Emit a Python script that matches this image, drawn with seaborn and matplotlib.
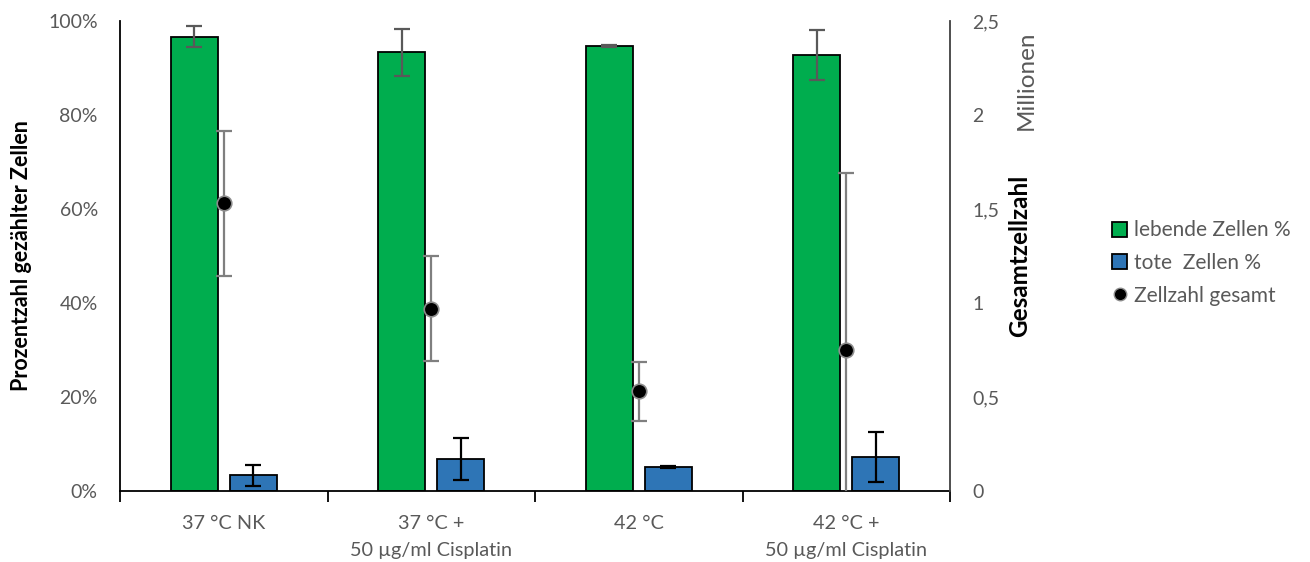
import numpy as np
import pandas as pd
import matplotlib
matplotlib.use("Agg")
import matplotlib.pyplot as plt
from matplotlib.lines import Line2D
from matplotlib.patches import Patch
from matplotlib.ticker import FuncFormatter, MultipleLocator
import seaborn as sns

# Data
categories = ["37 °C NK", "37 °C +\n50 µg/ml Cisplatin", "42 °C", "42 °C +\n50 µg/ml Cisplatin"]
live_pct = [96.7, 93.3, 94.7, 92.8]
live_err = [2.3, 4.9, 0.2, 5.3]
dead_pct = [3.3, 6.8, 5.2, 7.2]
dead_err = [2.3, 4.4, 0.2, 5.3]
total_mio = [1.53, 0.97, 0.53, 0.75]
total_err = [0.385, 0.28, 0.157, 0.94]
series_names = ["lebende Zellen %", "tote  Zellen %"]
total_name = "Zellzahl gesamt"

GREEN = "#00ad4e"
BLUE = "#2e75b6"
GREY = "#595959"

sns.set_style("white")
plt.rcParams["font.family"] = ["Lato", "DejaVu Sans"]

df = pd.DataFrame({
    "Gruppe": categories * 2,
    "Serie": [series_names[0]] * 4 + [series_names[1]] * 4,
    "Wert": live_pct + dead_pct,
})

fig = plt.figure(figsize=(13.1, 5.62), dpi=100)
ax = fig.add_axes([120 / 1310, 1 - 491 / 562, 830 / 1310, 470 / 562])

sns.barplot(data=df, x="Gruppe", y="Wert", hue="Serie", order=categories,
            hue_order=series_names, palette=[GREEN, BLUE], saturation=1,
            width=0.57, gap=0.2, errorbar=None, edgecolor="black",
            linewidth=1.3, legend=False, ax=ax)

# error bars on the bars
for cont, errs, col in zip(ax.containers, [live_err, dead_err], [GREY, "black"]):
    xs = [p.get_x() + p.get_width() / 2 for p in cont.patches]
    ys = [p.get_height() for p in cont.patches]
    ax.errorbar(xs, ys, yerr=errs, fmt="none", ecolor=col, elinewidth=1.6,
                capsize=5.5, capthick=1.6, zorder=5)

ax.set_ylim(0, 100)
ax.set_xlim(-0.5, 3.5)
ax.yaxis.set_major_locator(MultipleLocator(20))
ax.yaxis.set_major_formatter(FuncFormatter(lambda v, p: f"{v:.0f}%"))
ax.set_xlabel("")
ax.set_ylabel("Prozentzahl gezählter Zellen", fontsize=15.5, fontweight="bold",
              color="black")
ax.yaxis.label.set(ha="center", va="center")
ax.yaxis.set_label_coords((22 - 120) / 830, 0.5)
ax.set_xticks([-0.5, 0.5, 1.5, 2.5, 3.5], minor=False)
ax.set_xticklabels([])
ax.set_xticks(range(4), minor=True)
ax.set_xticklabels(categories, minor=True, linespacing=1.75)
ax.tick_params(axis="x", which="major", direction="out", length=8, width=1.3,
               color="black", bottom=True)
ax.tick_params(axis="x", which="minor", length=0, pad=17, labelsize=14.3,
               labelcolor=GREY)
ax.tick_params(axis="y", length=0, labelsize=14, labelcolor=GREY, pad=16)
for s in ["top", "right"]:
    ax.spines[s].set_visible(False)
for s in ["left", "bottom"]:
    ax.spines[s].set_color("black")
    ax.spines[s].set_linewidth(1.3)

# secondary axis: total cell count in millions
ax2 = ax.twinx()
ax2.errorbar(np.arange(4), total_mio, yerr=total_err, fmt="none", ecolor="#7f7f7f",
             elinewidth=1.6, capsize=5.5, capthick=1.6, zorder=4)
sns.scatterplot(x=np.arange(4), y=total_mio, ax=ax2, color="black", s=110,
                edgecolor="#8c8c8c", linewidth=1.2, zorder=6, legend=False)
ax2.set_ylim(0, 2.5)
ax2.set_xlim(-0.5, 3.5)
ax2.set_yticks([0, 0.5, 1, 1.5, 2, 2.5])
ax2.yaxis.set_major_formatter(FuncFormatter(lambda v, p: f"{v:g}".replace(".", ",")))
ax2.tick_params(axis="y", length=0, labelsize=14, labelcolor=GREY, pad=16)
for s in ["top", "left", "bottom"]:
    ax2.spines[s].set_visible(False)
ax2.spines["right"].set_color("#404040")
ax2.spines["right"].set_linewidth(1.3)
ax2.set_ylabel("Gesamtzellzahl", fontsize=17.5, fontweight="bold", color="black")
ax2.yaxis.label.set(ha="center", va="center")
ax2.yaxis.set_label_coords((1020 - 120) / 830, 0.5)
fig.text(1026 / 1310, 1 - 80 / 562, "Millionen", rotation=90, ha="center",
         va="center", fontsize=17.5, color=GREY)

handles = [
    Patch(facecolor=GREEN, edgecolor="black", linewidth=1.3),
    Patch(facecolor=BLUE, edgecolor="black", linewidth=1.3),
    Line2D([], [], marker="o", linestyle="none", markerfacecolor="black",
           markeredgecolor="#8c8c8c", markersize=9),
]
leg = fig.legend(handles, series_names + [total_name], loc="center left",
                 bbox_to_anchor=(1093 / 1310, 1 - 263 / 562), frameon=False,
                 fontsize=15, handlelength=0.75, handleheight=0.75,
                 handletextpad=0.3, labelspacing=0.6, labelcolor=GREY)

fig.savefig("out.png", dpi=100)
